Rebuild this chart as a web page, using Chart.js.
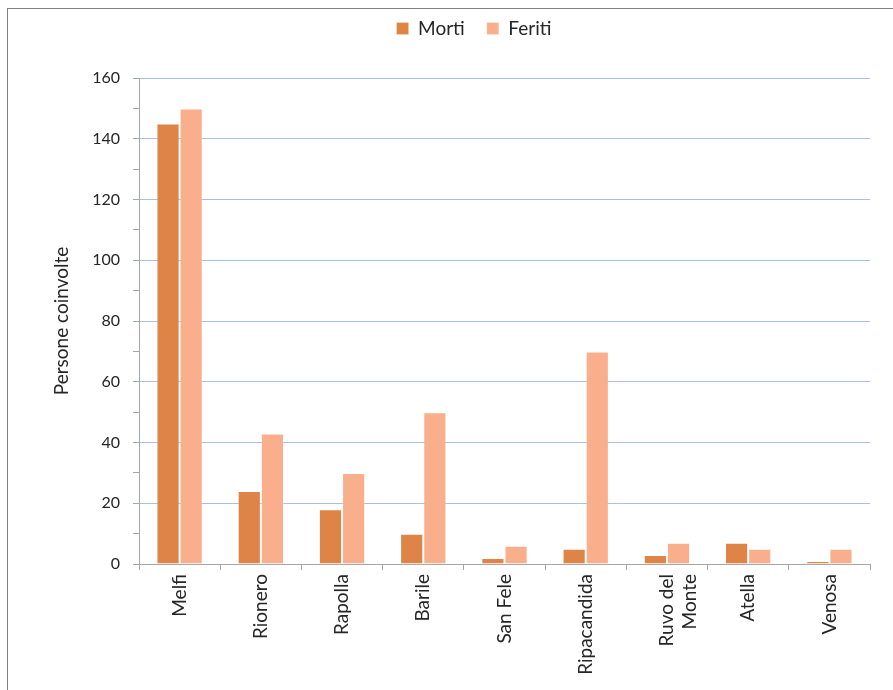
<!DOCTYPE html>
<html>
<head>
<meta charset="utf-8">
<script src="https://cdn.jsdelivr.net/npm/chart.js@4"></script>
<style>
  html, body { margin: 0; padding: 0; background: #fff; overflow: hidden; }
  #wrap { position: relative; width: 893px; height: 690px; }
  #frame {
    position: absolute; left: 7px; top: 8px; width: 1000px; height: 1000px;
    border-left: 1px solid #808080; border-top: 1px solid #808080;
  }
  canvas { position: absolute; left: 0; top: 0; }
</style>
</head>
<body>
<div id="wrap">
  <div id="frame"></div>
  <canvas id="myChart" width="893" height="690"></canvas>
</div>
<script>
// data
const comuni = ["Melfi", "Rionero", "Rapolla", "Barile", "San Fele", "Ripacandida", ["Ruvo del", "Monte"], "Atella", "Venosa"];
const morti = [145, 24, 18, 10, 2, 5, 3, 7, 1];
const feriti = [150, 43, 30, 50, 6, 70, 7, 5, 5];
const yTicks = [0, 20, 40, 60, 80, 100, 120, 140, 160];

const textColor = "#262626";
const axisGray = "#A6A6A6";
const gridBlue = "#A9C0E6";
const family = "Lato, 'Noto Sans', sans-serif";
const font = { family: family, size: 19 };
const tickFont = { family: family, size: 16 };

// nudge the legend (Excel centres it on its own box, not the canvas)
const legendShift = {
  id: "legendShift",
  afterLayout(chart) {
    const dx = 17;
    const dy = -30;
    chart.legend.left += dx;
    chart.legend.right += dx;
    chart.legend.top += dy;
    chart.legend.bottom += dy;
  },
};

chart = new Chart(document.getElementById("myChart"), {
  type: "bar",
  data: {
    labels: comuni,
    datasets: [
      {
        label: "Morti",
        data: morti,
        backgroundColor: "#DD8446",
        borderColor: "rgba(255,255,255,0.2)",
        borderWidth: 1,
      },
      {
        label: "Feriti",
        data: feriti,
        backgroundColor: "#F9AF8B",
        borderColor: "rgba(255,255,255,0.2)",
        borderWidth: 1,
      },
    ],
  },
  plugins: [legendShift],
  options: {
    responsive: false,
    animation: false,
    layout: { padding: { left: 44, right: 23, top: 27, bottom: 0 } },
    datasets: { bar: { categoryPercentage: 0.57, barPercentage: 1 } },
    plugins: {
      legend: {
        position: "top",
        labels: {
          boxWidth: 12,
          boxHeight: 12,
          padding: 22,
          color: textColor,
          font: font,
        },
      },
      tooltip: { enabled: false },
    },
    scales: {
      x: {
        grid: {
          drawOnChartArea: false,
          drawTicks: true,
          tickLength: 6,
          color: axisGray,
        },
        border: { display: true, color: axisGray, width: 1 },
        ticks: {
          color: textColor,
          font: font,
          minRotation: 90,
          maxRotation: 90,
          autoSkip: false,
          padding: 4,
        },
        afterFit(scale) {
          scale.height = 126;
        },
      },
      y: {
        min: 0,
        max: 160,
        grid: {
          color: (ctx) =>
            ctx.tick && ctx.tick.value > 0 && yTicks.includes(ctx.tick.value) ? gridBlue : "rgba(0,0,0,0)",
          tickColor: axisGray,
          tickLength: 6,
          lineWidth: 1,
        },
        border: { display: true, color: axisGray, width: 1 },
        ticks: {
          stepSize: 10,
          autoSkip: false,
          color: textColor,
          font: tickFont,
          padding: 13,
          callback: (v) => (yTicks.includes(v) ? v : ""),
        },
        title: {
          display: true,
          text: "Persone coinvolte",
          color: textColor,
          font: font,
          padding: { top: 6, bottom: 0 },
        },
        afterFit(scale) {
          scale.width = 139 - 44;
        },
      },
    },
  },
});
</script>
</body>
</html>
